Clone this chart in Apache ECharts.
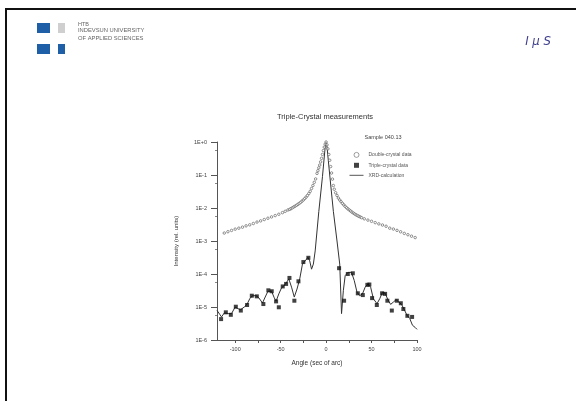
<!DOCTYPE html>
<html>
<head>
<meta charset="utf-8">
<script src="https://cdn.jsdelivr.net/npm/echarts@6/dist/echarts.min.js"></script>
<style>
  html, body { margin: 0; padding: 0; background: #fff; }
  #chart { width: 576px; height: 401px; }
</style>
</head>
<body>
<div id="chart"></div>
<script>
// Rocking curves of sample 040.13: double-crystal scan, triple-crystal scan and calculated curve
const doubleAngles = [
  -112, -108, -104, -100, -96, -92, -88, -84, -80, -76, -72, -68, -64, -60, -56, -52, -48, -45, -42,
  -40, -38.5, -37, -35.5, -34, -32.5, -31, -29.5, -28, -26.5, -25, -23.5, -22, -20.5, -19, -17.5,
  -16, -14.5, -13, -11.5, -10, -9, -8, -7, -6, -5, -4, -3, -2, -1, 0,
  1, 2, 3, 4, 5, 6, 7, 8, 9, 10.5, 12, 13.5, 15, 16.5, 18, 19.5, 21, 22.5, 24, 25.5, 27, 28.5,
  30, 31.5, 33, 34.5, 36, 37.5, 39,
  42, 46, 50, 54, 58, 62, 66, 70, 74, 78, 82, 86, 90, 94, 98
];
const doubleIntensity = [
  1.74e-3, 1.91e-3, 2.09e-3, 2.29e-3, 2.45e-3, 2.63e-3, 2.88e-3, 3.09e-3, 3.39e-3, 3.75e-3, 4.07e-3, 4.47e-3, 4.90e-3, 5.37e-3, 5.89e-3, 6.46e-3, 7.24e-3, 7.94e-3, 8.71e-3,
  9.1e-3, 9.6e-3, 1.02e-2, 1.08e-2, 1.14e-2, 1.21e-2, 1.29e-2, 1.38e-2, 1.48e-2, 1.61e-2, 1.76e-2, 1.93e-2, 2.14e-2, 2.40e-2, 2.75e-2, 3.20e-2,
  3.90e-2, 4.80e-2, 6.00e-2, 7.60e-2, 0.112, 0.135, 0.165, 0.20, 0.25, 0.32, 0.42, 0.55, 0.70, 0.86, 1.0,
  0.82, 0.62, 0.42, 0.28, 0.18, 0.115, 0.075, 0.048, 0.037, 0.029, 0.024, 0.020, 0.0175, 0.0155, 0.0138, 0.0124, 0.0112, 0.0102, 9.4e-3, 8.7e-3, 8.1e-3, 7.5e-3,
  7.0e-3, 6.6e-3, 6.2e-3, 5.9e-3, 5.6e-3, 5.35e-3, 5.1e-3,
  4.7e-3, 4.3e-3, 3.95e-3, 3.6e-3, 3.3e-3, 3.05e-3, 2.8e-3, 2.45e-3, 2.3e-3, 2.1e-3, 1.9e-3, 1.7e-3, 1.55e-3, 1.4e-3, 1.27e-3
];

const tripleAngles = [
  -115.5, -110.3, -104.8, -99.3, -93.8, -86.9, -81.7, -76.2, -69, -63.5, -59.8, -55, -52, -47.7, -44, -40.3,
  -34.9, -30.4, -25, -19.5,
  14.3, 19.8, 23.9, 29.4, 34.9, 40.4, 45.4, 47.6, 50.6, 55.8, 61.6, 64.9, 67.4, 72.3, 77.8, 82.2, 85, 89.4, 94.6
];
const tripleIntensity = [
  4.3e-6, 6.9e-6, 5.8e-6, 1.02e-5, 7.8e-6, 1.15e-5, 2.2e-5, 2.1e-5, 1.23e-5, 3.2e-5, 3.0e-5, 1.48e-5, 9.8e-6, 4.2e-5, 5.0e-5, 7.6e-5,
  1.55e-5, 6.0e-5, 2.3e-4, 3.1e-4,
  1.5e-4, 1.55e-5, 1.0e-4, 1.05e-4, 2.6e-5, 2.3e-5, 4.7e-5, 4.8e-5, 1.86e-5, 1.15e-5, 2.6e-5, 2.5e-5, 1.55e-5, 7.8e-6, 1.55e-5, 1.3e-5, 8.7e-6, 5.4e-6, 5.0e-6
];

const calcAngles = [
  -120, -117, -115, -112, -110, -107, -104, -100, -97, -94, -90, -87, -84, -81, -77, -74, -70, -67, -64, -60,
  -57, -55, -52, -49, -45, -41, -38, -35, -32, -29, -26, -23, -20, -18, -16, -14, -12, -8, -4, -1, 0,
  1, 4, 8, 12, 15, 17, 19, 21, 24, 28, 31, 34, 37, 40, 43, 46, 49, 52, 56, 59, 62, 65, 68, 71, 74, 77,
  80, 83, 86, 89, 92, 95, 98, 100
];
const calcIntensity = [
  7.9e-6, 6.0e-6, 5.0e-6, 6.6e-6, 7.2e-6, 6.3e-6, 6.3e-6, 1.0e-5, 8.9e-6, 8.3e-6, 1.0e-5, 1.2e-5, 1.78e-5, 2.2e-5, 2.2e-5, 1.9e-5, 1.32e-5, 2.0e-5, 3.0e-5, 3.0e-5,
  1.9e-5, 1.5e-5, 2.5e-5, 3.8e-5, 4.8e-5, 7.1e-5, 4.0e-5, 2.0e-5, 3.5e-5, 7.1e-5, 2.0e-4, 2.5e-4, 3.2e-4, 2.5e-4, 1.4e-4, 2.0e-4, 5.0e-4, 7.9e-3, 8.9e-2, 0.71, 1.0,
  0.71, 0.1, 7.9e-3, 1.0e-3, 2.0e-4, 6.3e-6, 3.2e-5, 8.9e-5, 1.12e-4, 1.12e-4, 6.3e-5, 2.8e-5, 2.2e-5, 2.5e-5, 4.0e-5, 5.0e-5, 4.0e-5, 1.78e-5, 1.26e-5, 1.78e-5, 2.8e-5, 2.6e-5, 1.66e-5, 1.2e-5, 1.41e-5, 1.66e-5,
  1.41e-5, 1.2e-5, 8.3e-6, 5.6e-6, 4.5e-6, 2.8e-6, 2.4e-6, 2.1e-6
];

const xLabelValues = [-100, -50, 0, 50, 100];
const xTickValues = [-100, -75, -50, -25, 0, 25, 50, 75, 100];

const seriesNames = ['Double-crystal data', 'Triple-crystal data', 'XRD-calculation'];

const pair = (xs, ys) => xs.map((x, i) => [x, ys[i]]);

const FONT = '"Liberation Sans", Arial, sans-serif';
const SQUARE = 'path://M0,0H1V1H0Z';
const chart = echarts.init(document.getElementById('chart'), null, { renderer: 'canvas' });

chart.setOption({
  backgroundColor: '#ffffff',
  animation: false,
  title: {
    text: 'Triple-Crystal measurements',
    left: 320, top: 108, textAlign: 'center',
    textStyle: { fontFamily: FONT, fontSize: 7.5, fontWeight: 'normal', color: '#333' }
  },
  legend: {
    left: 344, top: 147, orient: 'vertical',
    itemWidth: 14, itemHeight: 5, itemGap: 5, symbolKeepAspect: true,
    textStyle: { fontFamily: FONT, fontSize: 5, color: '#555' },
    data: [
      { name: seriesNames[0], icon: 'circle', itemStyle: { color: '#fff', borderColor: '#666', borderWidth: 0.8 } },
      { name: seriesNames[1], icon: SQUARE, itemStyle: { color: '#111' } },
      { name: seriesNames[2], itemStyle: { opacity: 0 }, lineStyle: { color: '#555', width: 1 } }
    ]
  },
  grid: { left: 217, right: 159, top: 142, bottom: 61 },
  xAxis: {
    type: 'value', min: -120, max: 100,
    name: 'Angle (sec of arc)', nameLocation: 'middle', nameGap: 20,
    nameTextStyle: { fontFamily: FONT, fontSize: 6.5, color: '#333' },
    axisLine: { onZero: false, lineStyle: { color: '#555', width: 1 } },
    axisTick: { customValues: xTickValues, length: 3, lineStyle: { color: '#555' } },
    axisLabel: { customValues: xLabelValues, fontFamily: FONT, fontSize: 5.5, color: '#444', margin: 6 },
    splitLine: { show: false }
  },
  yAxis: {
    type: 'log', logBase: 10, min: 1e-6, max: 1,
    name: 'Intensity (rel. units)', nameLocation: 'middle', nameGap: 38, nameRotate: 90,
    nameTextStyle: { fontFamily: FONT, fontSize: 6, color: '#333' },
    axisLine: { show: true, onZero: false, lineStyle: { color: '#555', width: 1 } },
    axisTick: { show: true, length: 6, lineStyle: { color: '#555' } },
    minorTick: { show: true, splitNumber: 2, length: 2, lineStyle: { color: '#888' } },
    axisLabel: {
      fontFamily: FONT, fontSize: 5.5, color: '#444', margin: 10,
      formatter: v => {
        const e = Math.round(Math.log10(v));
        return '1E' + (e >= 0 ? '+' : '-') + Math.abs(e);
      }
    },
    splitLine: { show: false }
  },
  series: [
    {
      name: seriesNames[0], type: 'scatter', data: pair(doubleAngles, doubleIntensity),
      symbol: 'circle', symbolSize: 2.5,
      itemStyle: { color: '#fff', borderColor: '#555', borderWidth: 0.8 }, z: 3
    },
    {
      name: seriesNames[2], type: 'line', data: pair(calcAngles, calcIntensity),
      showSymbol: false, symbol: 'none',
      lineStyle: { color: '#333', width: 1 }, itemStyle: { color: '#333' }, z: 2
    },
    {
      name: seriesNames[1], type: 'scatter', data: pair(tripleAngles, tripleIntensity),
      symbol: 'rect', symbolSize: 4,
      itemStyle: { color: '#111' }, z: 4
    }
  ],
  graphic: [
    // slide frame
    { type: 'polyline', shape: { points: [[6, 420], [6, 9], [600, 9]] }, style: { stroke: '#111', lineWidth: 2, fill: null } },
    // logo squares
    { type: 'rect', shape: { x: 37, y: 23, width: 13, height: 10 }, style: { fill: '#1f5fa8' } },
    { type: 'rect', shape: { x: 58, y: 23, width: 7, height: 10 }, style: { fill: '#cfcfcf' } },
    { type: 'rect', shape: { x: 37, y: 44, width: 13, height: 10 }, style: { fill: '#1f5fa8' } },
    { type: 'rect', shape: { x: 58, y: 44, width: 7, height: 10 }, style: { fill: '#1f5fa8' } },
    { type: 'text', x: 78, y: 21, style: { text: 'HTB', fontFamily: FONT, fontSize: 5.5, fill: '#666' } },
    { type: 'text', x: 78, y: 27.5, style: { text: 'INDEVSUN UNIVERSITY', fontFamily: FONT, fontSize: 5.8, fill: '#666' } },
    { type: 'text', x: 78, y: 35, style: { text: 'OF APPLIED SCIENCES', fontFamily: FONT, fontSize: 5.8, fill: '#666' } },
    // brand mark
    { type: 'text', x: 538, y: 42, style: { text: 'I μ S', fontFamily: '"DejaVu Sans Condensed", "DejaVu Sans", sans-serif', fontStyle: 'italic', fontSize: 13, fill: '#3c3c8c', align: 'center', verticalAlign: 'middle' } },
    // sample label above legend
    { type: 'text', x: 383, y: 137, style: { text: 'Sample 040.13', fontFamily: FONT, fontSize: 5.5, fill: '#444', align: 'center', verticalAlign: 'middle' } }
  ]
});
</script>
</body>
</html>
